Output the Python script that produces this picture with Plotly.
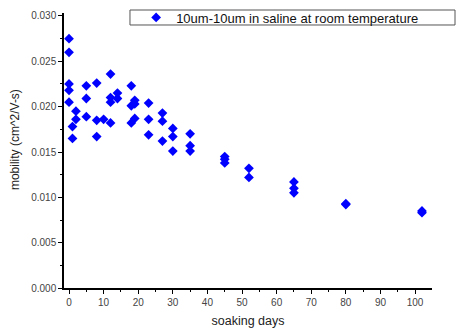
import plotly.graph_objects as go

days = [0, 0, 0, 0, 0, 1, 1, 2, 2, 5, 5, 5, 8, 8, 8, 10, 12, 12, 12, 12, 14, 14,
        18, 18, 18, 19, 19, 19, 23, 23, 23, 27, 27, 27, 30, 30, 30, 35, 35, 35,
        45, 45, 45, 52, 52, 65, 65, 65, 80, 80, 102, 102]
mobility = [0.0275, 0.0260, 0.0225, 0.0218, 0.0205, 0.0178, 0.0165, 0.0195, 0.0186,
            0.0223, 0.0209, 0.0189, 0.0226, 0.0185, 0.0167, 0.0186, 0.0236, 0.0210,
            0.0205, 0.0182, 0.0215, 0.0209, 0.0223, 0.0201, 0.0182, 0.0207, 0.0203,
            0.0187, 0.0204, 0.0186, 0.0169, 0.0193, 0.0184, 0.0162, 0.0176, 0.0167,
            0.0151, 0.0170, 0.0157, 0.0151, 0.0145, 0.0142, 0.0138, 0.0132, 0.0122,
            0.0117, 0.0110, 0.0105, 0.0093, 0.0092, 0.0085, 0.0083]
series_name = "10um-10um in saline at room temperature"
x_title = "soaking days"
y_title = "mobility (cm^2/V-s)"

fig = go.Figure()
fig.add_trace(go.Scatter(
    x=days, y=mobility, mode="markers", name=series_name,
    marker=dict(symbol="diamond", size=7.5, color="#0000FF", line=dict(width=0)),
))

tickfont = dict(family="Liberation Sans, Arial, sans-serif", size=10, color="#444444")
titlefont = dict(family="Liberation Sans, Arial, sans-serif", size=12.5, color="#222222")

# legend frame (drawn as a paper-space rectangle)
fig.add_shape(type="rect", xref="paper", yref="paper",
              x0=0.1793, x1=1.0625, y0=0.9564, y1=1.0109,
              line=dict(color="#555555", width=1), fillcolor="white", layer="below")

# y-axis title as annotation (positioned like the reference)
fig.add_annotation(text=y_title, xref="paper", yref="paper", x=-0.133, y=0.538,
                   textangle=-90, showarrow=False, xanchor="center", yanchor="middle",
                   font=dict(family="Liberation Sans, Arial, sans-serif", size=12,
                             color="#222222"))

fig.update_layout(
    width=462, height=332,
    margin=dict(l=64, r=30, t=13, b=44, autoexpand=False),
    paper_bgcolor="white", plot_bgcolor="white",
    showlegend=True,
    legend=dict(
        orientation="h",
        x=0.196, y=0.9836, xanchor="left", yanchor="middle",
        borderwidth=0, bgcolor="rgba(0,0,0,0)",
        font=dict(family="Liberation Sans, Arial, sans-serif", size=13, color="#111111"),
        itemsizing="trace", tracegroupgap=0,
    ),
    xaxis=dict(
        range=[-1.45, 104.9], tickmode="linear", tick0=0, dtick=10,
        ticks="outside", ticklen=4, tickcolor="black", tickwidth=1,
        minor=dict(dtick=5, ticks="outside", ticklen=2, tickcolor="black"),
        showline=True, linecolor="black", linewidth=1.5,
        showgrid=False, zeroline=False, tickfont=tickfont, automargin=False,
        title=dict(text=x_title, font=titlefont, standoff=9),
    ),
    yaxis=dict(
        range=[0, 0.03033], tickmode="linear", tick0=0, dtick=0.005,
        tickformat=".3f",
        ticks="outside", ticklen=4, tickcolor="black", tickwidth=1,
        minor=dict(dtick=0.0025, ticks="outside", ticklen=2, tickcolor="black"),
        showline=True, linecolor="black", linewidth=1.5,
        showgrid=False, zeroline=False, tickfont=tickfont, automargin=False,
    ),
)

fig.write_html("out.html", config={"displayModeBar": False},
               post_script="document.body.style.margin='0';document.body.style.padding='0';")
